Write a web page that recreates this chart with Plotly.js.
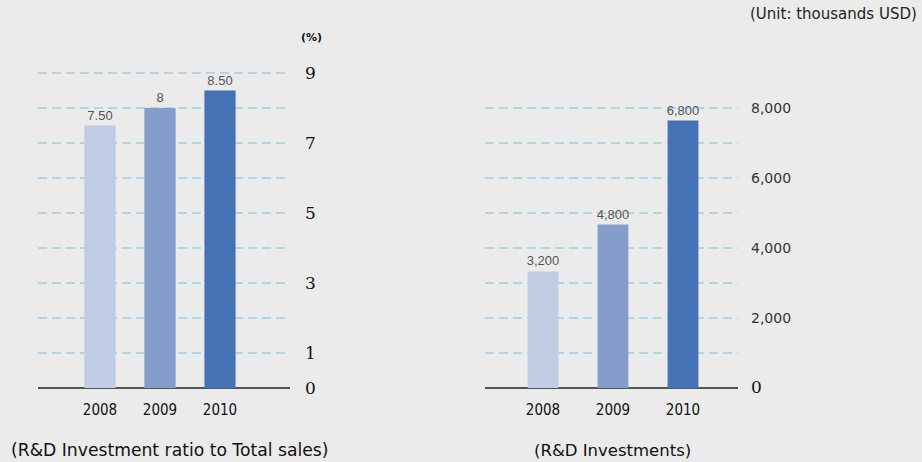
<!DOCTYPE html>
<html>
<head>
<meta charset="utf-8">
<script src="https://cdn.plot.ly/plotly-3.0.1.min.js"></script>
<style>html,body{margin:0;padding:0;background:#ebebeb;}#chart{width:922px;height:462px;}</style>
</head>
<body>
<div id="chart"></div>
<script>
// ---- data ----
const years = ['2008', '2009', '2010'];
const ratioValues = [7.5, 8, 8.5];
const ratioLabels = ['7.50', '8', '8.50'];
const investHeights = [3330, 4670, 7640];   // bar heights as drawn
const investLabels = ['3,200', '4,800', '6,800'];
const ratioTickVals = [0, 1, 2, 3, 4, 5, 6, 7, 8, 9];
const ratioTickText = ['0', '1', '', '3', '', '5', '', '7', '', '9'];
const investTickVals = [0, 1000, 2000, 3000, 4000, 5000, 6000, 7000, 8000];
const investTickText = ['0', '', '2,000', '', '4,000', '', '6,000', '', '8,000'];
const barColors = ['#bfcce4', '#849dcb', '#4572b4'];
const leftTitle = '(R&D Investment ratio to Total sales)';
const rightTitle = '(R&D Investments)';
const unitText = '(Unit: thousands USD)';
const pctText = '(%)';

const W = 922, H = 462;
const fx = p => p / W;
const fy = p => (H - p) / H;
const PX = 35;          // pixels per unit
const Y0 = 388;         // baseline pixel
const TOP = 9.2;        // range top (units)

const labelFont = {family: 'Liberation Sans, Arial, sans-serif', size: 13, color: '#555'};
const yearFont = {family: 'Liberation Sans Narrow, DejaVu Sans Condensed, sans-serif', size: 15, color: '#111'};
const GRIDCOLOR = '#72c4dc';
const DASH = '9px,5px';

const traces = [
  {type: 'bar', x: years, y: ratioValues, text: ratioLabels, textposition: 'outside',
   cliponaxis: false, textfont: labelFont, outsidetextfont: labelFont, constraintext: 'none',
   marker: {color: barColors, line: {width: 0}}, width: 0.52, xaxis: 'x', yaxis: 'y', hoverinfo: 'none'},
  {type: 'bar', x: years, y: investHeights, text: investLabels, textposition: 'outside',
   cliponaxis: false, textfont: labelFont, outsidetextfont: labelFont, constraintext: 'none',
   marker: {color: barColors, line: {width: 0}}, width: 0.44, xaxis: 'x2', yaxis: 'y2', hoverinfo: 'none'}
];

const investTickTextFmt = investTickText.map((t, i) => i === 0
  ? "<span style='font-family:DejaVu Serif;font-size:17px;color:#111'>0</span>" : t);

const yDomain = [fy(Y0), fy(Y0 - TOP * PX)];

function gridShapes(vals, xa, ya) {
  return vals.filter(v => v > 0).map(v => ({
    type: 'line', xref: xa + ' domain', yref: ya, x0: 0, x1: 1, y0: v, y1: v, layer: 'below',
    line: {color: GRIDCOLOR, width: 1, dash: DASH}
  }));
}

const yBase = {side: 'right', showgrid: false, zeroline: true, zerolinecolor: '#555', zerolinewidth: 1.5,
  showline: false, ticks: ''};

const layout = {
  width: W, height: H,
  margin: {l: 0, r: 0, t: 0, b: 0},
  paper_bgcolor: '#ebebeb', plot_bgcolor: 'rgba(0,0,0,0)',
  showlegend: false,
  xaxis: {domain: [fx(38), fx(290)], type: 'category', range: [-62/60, 190/60],
    showgrid: false, zeroline: false, showline: false, ticks: '', anchor: 'y',
    tickfont: yearFont, ticklabelstandoff: 11},
  yaxis: Object.assign({}, yBase, {domain: yDomain, range: [0, TOP],
    anchor: 'x', tickvals: ratioTickVals, ticktext: ratioTickText, ticklabelstandoff: 14,
    tickfont: {family: 'DejaVu Serif, serif', size: 17, color: '#111'}}),
  xaxis2: {domain: [fx(485), fx(738)], type: 'category', range: [-58/70, 195/70],
    showgrid: false, zeroline: false, showline: false, ticks: '', anchor: 'y2',
    tickfont: yearFont, ticklabelstandoff: 11},
  yaxis2: Object.assign({}, yBase, {domain: yDomain, range: [0, TOP * 1000],
    anchor: 'x2', tickvals: investTickVals, ticktext: investTickTextFmt, ticklabelstandoff: 12,
    tickfont: {family: 'DejaVu Sans, sans-serif', size: 14, color: '#333'}}),
  shapes: gridShapes(ratioTickVals, 'x', 'y').concat(gridShapes(investTickVals, 'x2', 'y2')),
  annotations: [
    {text: leftTitle, xref: 'paper', yref: 'paper', x: fx(169), y: fy(450), showarrow: false,
     xanchor: 'center', yanchor: 'middle', font: {family: 'DejaVu Sans, sans-serif', size: 17.2, color: '#111'}},
    {text: rightTitle, xref: 'paper', yref: 'paper', x: fx(612), y: fy(450), showarrow: false,
     xanchor: 'center', yanchor: 'middle', font: {family: 'DejaVu Sans, sans-serif', size: 16.5, color: '#111'}},
    {text: '<b>' + pctText + '</b>', xref: 'paper', yref: 'paper', x: fx(311), y: fy(37), showarrow: false,
     xanchor: 'center', yanchor: 'middle', font: {family: 'DejaVu Sans, sans-serif', size: 11, color: '#111'}},
    {text: unitText, xref: 'paper', yref: 'paper', x: fx(919), y: fy(14), showarrow: false,
     xanchor: 'right', yanchor: 'middle', font: {family: 'DejaVu Sans, sans-serif', size: 15, color: '#222'}}
  ]
};

Plotly.newPlot('chart', traces, layout, {staticPlot: true, displayModeBar: false});
</script>
</body>
</html>
